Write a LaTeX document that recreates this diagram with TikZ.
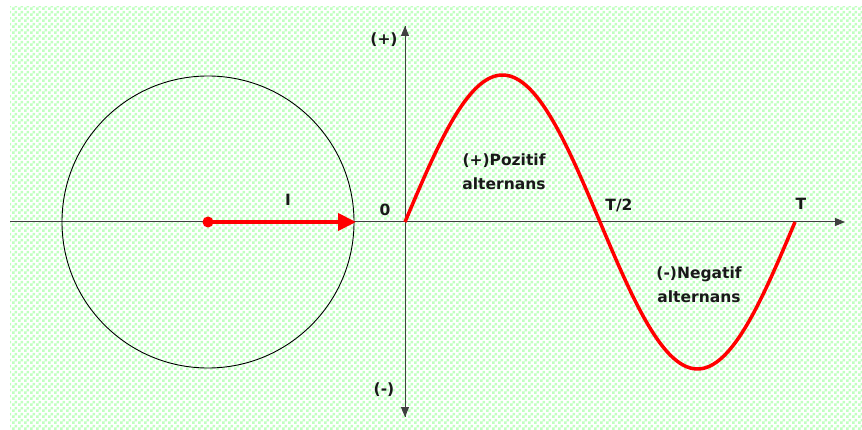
\documentclass[tikz,border=0pt]{standalone}
\usepackage{fontspec}
\setmainfont{DejaVu Sans}
\usetikzlibrary{arrows.meta,patterns}
\definecolor{chk}{HTML}{C0FFC0}
\definecolor{wred}{HTML}{FF0000}
\pgfdeclarepatternformonly{greencheck}{\pgfpointorigin}{\pgfpoint{6pt}{6pt}}{\pgfpoint{6pt}{6pt}}{%
  \pgfpathrectangle{\pgfpointorigin}{\pgfpoint{3pt}{3pt}}%
  \pgfpathrectangle{\pgfpoint{3pt}{3pt}}{\pgfpoint{3pt}{3pt}}%
  \pgfusepath{fill}}
\tikzset{
  axis/.style={draw=black!75, line width=1pt, -{Triangle[length=10pt,width=8pt]}},
  lbl/.style={font=\fontsize{15.5}{24}\selectfont\bfseries, text=black!90, inner sep=0pt},
  wave/.style={draw=wred, line width=3.5pt},
}
\begin{document}
\begin{tikzpicture}[x=1pt,y=-1pt]
\useasboundingbox (0,0) rectangle (862,430);
\fill[white] (0,0) rectangle (862,430);
\fill[pattern=greencheck, pattern color=chk] (10,7) rectangle (862,430);
% coordinates
\coordinate (O) at (405,222);
\coordinate (xl) at (10,222);
\coordinate (xr) at (845,222);
\coordinate (yt) at (405,26);
\coordinate (yb) at (405,417);
\coordinate (C) at (208,222);
\coordinate (Ctip) at (356,222);
% axes
\draw[axis] (xl) -- (xr);
\draw[axis] (yb) -- (yt);
\draw[axis] (yt) -- (yb);
% circle
\node[draw=black, line width=0.9pt, circle, minimum size=292pt, inner sep=0pt] (circ) at (C) {};
% phasor
\draw[draw=wred, line width=4pt, -{Triangle[length=18pt,width=17pt]}] (C) -- (Ctip);
\fill[wred] (C) circle (5.5);
% sine
\draw[wave] plot[domain=0:360, samples=120, smooth] ({405+\x*1.083333}, {222-147*sin(\x)});
% labels
\node[lbl] (lI) at (288,200) {I};
\node[lbl] (l0) at (385,210) {0};
\node[lbl] (lp) at (384,40) {(+)};
\node[lbl] (lm) at (384,390) {(-)};
\node[lbl] (lT2) at (619,205) {T/2};
\node[lbl] (lT) at (801,204) {T};
\node[lbl, align=center] (pos) at (504,172) {(+)Pozitif\\alternans};
\node[lbl, align=center] (neg) at (699,285) {(-)Negatif\\alternans};
\end{tikzpicture}
\end{document}
